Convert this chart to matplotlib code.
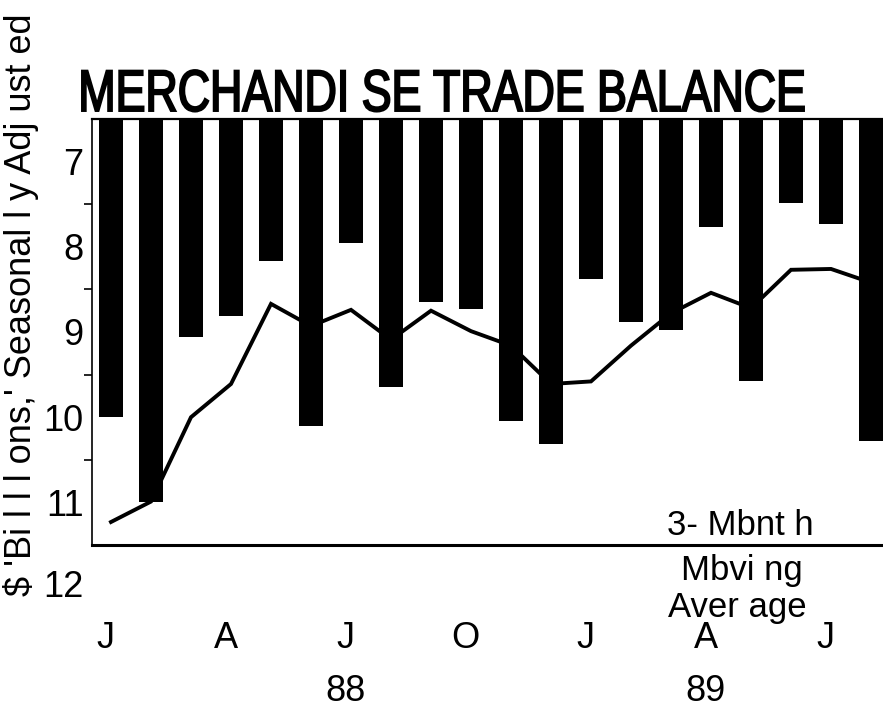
import matplotlib
matplotlib.use("Agg")
import matplotlib.pyplot as plt
from matplotlib import font_manager
from matplotlib.font_manager import FontProperties
from matplotlib.textpath import TextPath
from matplotlib.patches import PathPatch
import matplotlib.transforms as mtransforms

# monthly merchandise trade deficit, $ billions (Jan 88 .. Aug 89)
deficit = [10.0, 11.0, 9.06, 8.81, 8.17, 10.1, 7.95, 9.64, 8.65, 8.73,
           10.05, 10.32, 8.38, 8.88, 8.98, 7.77, 9.58, 7.49, 7.73, 10.28]
moving_avg = [11.23, 10.99, 10.0, 9.61, 8.67, 8.93, 8.74, 9.09, 8.75, 8.99,
              9.16, 9.61, 9.58, 9.16, 8.78, 8.54, 8.72, 8.27, 8.26, 8.42]
month_pos = [0, 3, 6, 9, 12, 15, 18]
month_labels = ["J", "A", "J", "O", "J", "A", "J"]
year_pos = [6, 15]
year_labels = ["88", "89"]
y_labels = [7, 8, 9, 10, 11, 12]

W, H = 883, 715
names = {f.name for f in font_manager.fontManager.ttflist}
base_font = "Liberation Sans" if "Liberation Sans" in names else "DejaVu Sans"
plt.rcParams["font.family"] = base_font


def fx(px):
    return px / W


def fy(py):
    return 1 - py / H


fig = plt.figure(figsize=(W / 100, H / 100), dpi=100)
ax = fig.add_axes([fx(92), fy(545), fx(791), 426 / H])

top = 6.5
x = list(range(len(deficit)))
ax.bar(x, [v - top for v in deficit], bottom=top, width=0.62, color="black")
ax.plot(x, moving_avg, color="black", lw=2.8, solid_joinstyle="miter")

ax.set_xlim(-0.475, 19.3)
ax.set_ylim(11.5, top)

ax.spines["right"].set_visible(False)
ax.spines["bottom"].set_linewidth(2.2)
ax.spines["top"].set_linewidth(1.6)
ax.spines["left"].set_linewidth(1.2)

ax.set_xticks([])
ax.set_yticks(y_labels[:-1])
ax.set_yticklabels([str(v) for v in y_labels[:-1]], fontsize=26)
ax.tick_params(axis="y", length=0, pad=6)
ax.set_yticks([7.5, 8.5, 9.5, 10.5], minor=True)
ax.tick_params(axis="y", which="minor", length=6, width=1.2, direction="out")

# last label sits below the axis line
ax.text(-0.0105, y_labels[-1], str(y_labels[-1]),
        transform=mtransforms.blended_transform_factory(ax.transAxes, ax.transData),
        ha="right", va="center", fontsize=26, clip_on=False)

fig.canvas.draw()


def xfig(p):
    return ax.transData.transform((p, top))[0] / fig.bbox.width


for p, lab in zip(month_pos, month_labels):
    fig.text(xfig(p) - 0.006, fy(648), lab, ha="center", va="baseline", fontsize=26)
for p, lab in zip(year_pos, year_labels):
    fig.text(xfig(p) - 0.006, fy(701), lab, ha="center", va="baseline", fontsize=26)

fig.text(fx(740), fy(535), "3- Mbnt h", ha="center", va="baseline", fontsize=25)
fig.text(fx(742), fy(580), "Mbvi ng", ha="center", va="baseline", fontsize=25)
fig.text(fx(737), fy(617), "Aver age", ha="center", va="baseline", fontsize=25)

# condensed title: squeeze the glyph outlines horizontally
title = "MERCHANDI SE TRADE BALANCE"
tp = TextPath((0, 0), title, size=1, prop=FontProperties(family=base_font))
ext = tp.get_extents()
sx = 722 / ext.width
sy = 42 / 0.716
tr = mtransforms.Affine2D().translate(-ext.x0, 0).scale(sx, sy).translate(82, H - 111)
fig.patches.append(PathPatch(tp, transform=tr, color="black", lw=1.4, figure=fig))

fig.text(fx(21), fy(305), "$ 'Bi l l l ons,' Seasonal l y Adj ust ed", rotation=90,
         ha="center", va="center", fontsize=26)

fig.savefig("out.png", dpi=100, facecolor="white")
